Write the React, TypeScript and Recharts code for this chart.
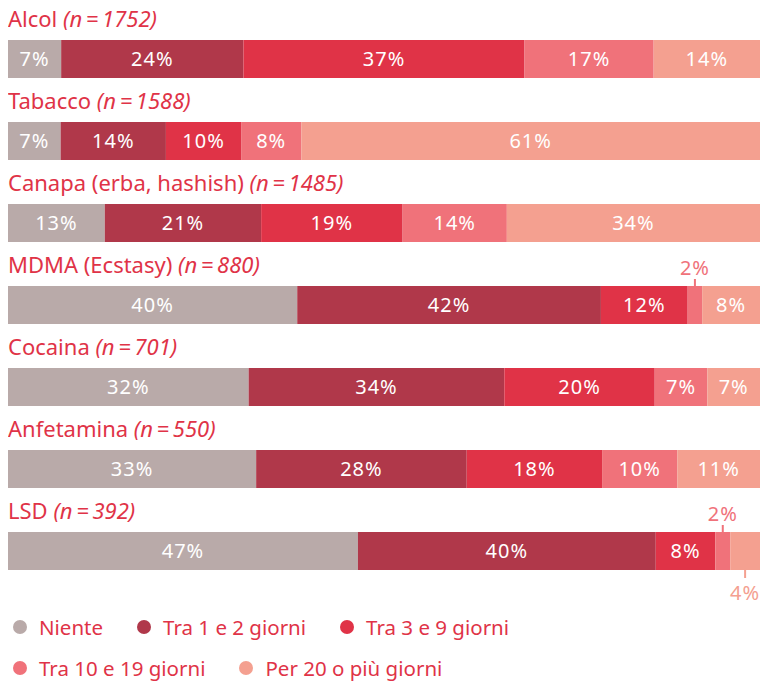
import React from 'react';
import { BarChart, Bar, XAxis, YAxis, Legend, LabelList } from 'recharts';

const categories = [
  'Alcol',
  'Tabacco',
  'Canapa (erba, hashish)',
  'MDMA (Ecstasy)',
  'Cocaina',
  'Anfetamina',
  'LSD'
];
const sampleSizes = [1752, 1588, 1485, 880, 701, 550, 392];

const niente = [7, 7, 13, 40, 32, 33, 47];
const tra1e2 = [24, 14, 21, 42, 34, 28, 40];
const tra3e9 = [37, 10, 19, 12, 20, 18, 8];
const tra10e19 = [17, 8, 14, 2, 7, 10, 2];
const per20 = [14, 61, 34, 8, 7, 11, 4];

const seriesNames = [
  'Niente',
  'Tra 1 e 2 giorni',
  'Tra 3 e 9 giorni',
  'Tra 10 e 19 giorni',
  'Per 20 o più giorni'
];
const seriesColors = ['#b9aaa9', '#b0384a', '#e03347', '#f0727a', '#f4a090'];
const seriesKeys = ['a', 'b', 'c', 'd', 'e'];

const TITLE_RED = '#e03347';
const FONT = '"Noto Sans", "Open Sans", sans-serif';

const data = categories.map((name, i) => ({
  name,
  n: sampleSizes[i],
  a: niente[i],
  b: tra1e2[i],
  c: tra3e9[i],
  d: tra10e19[i],
  e: per20[i]
}));

// small segments get their label outside the bar with a short tick
const makeLabel = (color: string, outside: 'above' | 'below') => (props: any) => {
  const { x, y, width, height, value } = props;
  if (value == null) return null;
  const cx = x + width / 2;
  if (value <= 4) {
    if (outside === 'above') {
      return (
        <g>
          <line x1={cx} x2={cx} y1={y - 7} y2={y} stroke={color} strokeWidth={2} />
          <text x={cx} y={y - 11} textAnchor="middle" fill={color} fontSize={20} letterSpacing={1} fontFamily={FONT}>
            {value}%
          </text>
        </g>
      );
    }
    return (
      <g>
        <line x1={cx} x2={cx} y1={y + height} y2={y + height + 8} stroke={color} strokeWidth={2} />
        <text x={cx} y={y + height + 30} textAnchor="middle" fill={color} fontSize={20} letterSpacing={1} fontFamily={FONT}>
          {value}%
        </text>
      </g>
    );
  }
  return (
    <text x={cx} y={y + height / 2 + 7} textAnchor="middle" fill="#ffffff" fontSize={20} letterSpacing={1} fontFamily={FONT}>
      {value}%
    </text>
  );
};

// category title drawn above each bar, from the first segment's position
const TitleLabel = (props: any) => {
  const { x, y, index } = props;
  return (
    <text x={x} y={y - 13} fill={TITLE_RED} fontSize={22} fontFamily={FONT} textAnchor="start">
      {categories[index]}{' '}
      <tspan fontStyle="italic">{`(n\u2009=\u2009${sampleSizes[index]})`}</tspan>
    </text>
  );
};

const legendRows = [[0, 1, 2], [3, 4]];

const CustomLegend = () => (
  <div style={{ height: 90, paddingTop: 14, boxSizing: 'border-box', fontFamily: FONT }}>
    {legendRows.map((row, r) => (
      <div key={r} style={{ display: 'flex', alignItems: 'center', height: 41 }}>
        {row.map(i => (
          <div key={i} style={{ display: 'flex', alignItems: 'center', marginRight: 29 }}>
            <span
              style={{
                width: 14,
                height: 14,
                borderRadius: 7,
                background: seriesColors[i],
                marginLeft: 5,
                marginRight: 12,
                display: 'inline-block'
              }}
            />
            <span style={{ color: TITLE_RED, fontSize: 20.5 }}>{seriesNames[i]}</span>
          </div>
        ))}
      </div>
    ))}
  </div>
);

const App: React.FC = () => {
  return (
    <div style={{ width: 752, height: 682, marginTop: -8 }}>
      <BarChart
        width={752}
        height={682}
        data={data}
        layout="vertical"
        stackOffset="expand"
        barSize={38}
        margin={{ top: 18, right: 0, left: 0, bottom: 0 }}
      >
        <XAxis type="number" hide domain={[0, 1]} />
        <YAxis type="category" dataKey="name" hide />
        <Legend verticalAlign="bottom" content={<CustomLegend />} />
        {seriesKeys.map((key, i) => (
          <Bar
            key={key}
            dataKey={key}
            name={seriesNames[i]}
            stackId="s"
            fill={seriesColors[i]}
            isAnimationActive={false}
          >
            <LabelList
              dataKey={key}
              content={makeLabel(seriesColors[i], i === 4 ? 'below' : 'above')}
            />
            {i === 0 && <LabelList dataKey="name" content={TitleLabel} />}
          </Bar>
        ))}
      </BarChart>
    </div>
  );
};

export default App;
